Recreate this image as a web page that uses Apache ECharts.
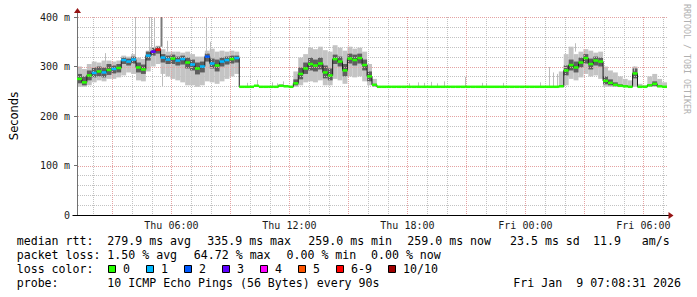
<!DOCTYPE html>
<html><head><meta charset="utf-8">
<script src="https://cdn.jsdelivr.net/npm/echarts@6/dist/echarts.min.js"></script>
<style>html,body{margin:0;padding:0;background:#fff}#c{width:697px;height:297px}</style>
</head><body><div id="c"></div>
<script>
// ---- time frame (hours since Thu 00:00) ----
const startHour = 1.2;   // Thu 01:12
const endHour = 31.2;    // Fri 07:12
const stepHours = 0.25;  // one sample per 15 min

// ---- median rtt (ms) per sample ----
const median = [
 275,268,282,287,290,288,293,295,297,313,
 310,314,298,294,322,330,334,318,314,316,
 312,315,308,304,296,300,320,306,302,310,
 313,315,317,259,259,259,261,259,259,259,
 259,261,260,259,266,285,296,305,302,306,
 288,282,315,310,292,316,313,317,303,280,
 263,259,259,259,259,259,259,259,259,259,
 259,259,259,259,259,259,259,259,259,259,
 259,259,259,259,259,259,259,259,259,259,
 259,259,259,259,259,259,259,259,260,292,
 303,298,308,317,305,312,310,271,267,263,
 261,260,259,286,259,259,262,265,260,259];

// ---- loss class per sample (index into lossNames) ----
const loss = [
 0,0,0,1,0,1,0,1,0,1,
 1,1,0,0,1,3,6,1,1,0,
 1,1,0,1,0,1,2,1,0,1,
 1,0,1,0,0,0,0,0,0,0,
 0,0,0,0,0,0,0,0,0,0,
 0,0,0,0,0,0,0,0,0,0,
 0,0,0,0,0,0,0,0,0,0,
 0,0,0,0,0,0,0,0,0,0,
 0,0,0,0,0,0,0,0,0,0,
 0,0,0,0,0,0,0,0,0,0,
 0,0,0,0,0,0,0,0,0,0,
 0,0,0,0,0,0,0,0,0,0];

// ---- smoke: outer (min..max) and core band (ms) ----
const smokeLo = [
 259,259,262,268,272,270,275,275,278,282,
 288,285,272,270,290,300,305,285,280,275,
 272,268,262,262,259,262,270,268,265,270,
 275,280,285,259,259,259,259,259,259,259,
 259,259,259,259,259,262,268,270,268,272,
 262,262,275,272,265,280,278,280,270,262,
 259,259,259,259,259,259,259,259,259,259,
 259,259,259,259,259,259,259,259,259,259,
 259,259,259,259,259,259,259,259,259,259,
 259,259,259,259,259,259,259,259,259,262,
 275,272,278,285,280,282,275,259,259,259,
 259,259,259,259,259,259,259,259,259,259];
const smokeHi = [
 300,295,305,310,308,312,312,310,312,322,
 320,325,318,315,332,338,342,335,330,330,
 330,328,330,325,320,320,332,336,330,332,
 330,332,330,259,259,259,259,259,259,259,
 259,264,262,259,290,318,325,338,335,340,
 333,330,343,338,332,340,336,338,330,305,
 275,259,259,259,259,259,259,259,259,259,
 259,259,259,259,259,259,259,259,259,259,
 259,259,259,259,259,259,259,259,259,259,
 259,259,259,259,259,259,259,259,290,325,
 340,325,330,335,332,328,330,300,292,288,
 280,275,272,300,265,262,280,285,275,268];
const coreLo = [
 266,262,272,278,280,278,283,286,288,305,
 302,306,288,285,312,322,326,308,305,305,
 302,304,296,292,284,288,310,296,290,300,
 304,306,308,259,259,259,259,259,259,259,
 259,259,259,259,262,274,285,292,290,294,
 276,272,305,300,280,306,302,306,292,270,
 260,259,259,259,259,259,259,259,259,259,
 259,259,259,259,259,259,259,259,259,259,
 259,259,259,259,259,259,259,259,259,259,
 259,259,259,259,259,259,259,259,259,282,
 292,288,298,306,294,302,300,264,262,260,
 259,259,259,276,259,259,260,261,259,259];
const coreHi = [
 285,280,292,298,300,298,305,302,305,318,
 316,320,308,304,330,338,340,325,322,324,
 320,322,318,314,308,310,326,316,314,318,
 320,322,322,259,259,259,259,259,259,259,
 259,263,261,259,274,298,308,318,314,318,
 302,296,324,320,305,326,324,326,314,290,
 265,259,259,259,259,259,259,259,259,259,
 259,259,259,259,259,259,259,259,259,259,
 259,259,259,259,259,259,259,259,259,259,
 259,259,259,259,259,259,259,259,262,302,
 314,310,318,325,316,320,318,280,274,268,
 264,262,260,296,259,259,264,270,262,259];

// ---- isolated single-ping spikes (hour, low ms, high ms, shade 0=light 1=dark) ----
const spikeHours = [2.6,4.15,4.85,4.95,5.1,5.45,5.5,5.8,7.75,7.95,9.85,10.35,11.1,11.35,11.65,18.1,18.55,18.85,19.2,19.5,19.85,20.95,21.8,22.0,22.85,24.75,25.2,25.4,25.6,26.5,29.5];
const spikeLow   = [310,320,330,330,335,340,259,330,325,330,259,259,259,259,259,259,259,259,259,259,259,259,259,259,259,259,259,259,259,330,290];
const spikeHigh  = [327,400,400,400,400,400,300,352,400,350,267,273,268,266,270,266,268,267,269,266,270,279,267,266,267,268,299,288,285,347,300];
const spikeShade = [0,0,0,0,0,1,0,0,0,0,0,0,0,0,0,0,0,0,0,0,0,0,0,0,0,0,0,0,0,0,0];

// ---- axes / grid ----
const yTicks = [0,100,200,300,400];
const yMinorGrid = [20,40,60,80,120,140,160,180,220,240,260,280,320,340,360,380];
const yMajorGrid = [100,200,300,400];
const xLabelHours = [6,12,18,24,30];
const xLabelNames = ['Thu 06:00','Thu 12:00','Thu 18:00','Fri 00:00','Fri 06:00'];
const xMinorGrid = [2,4,5,7,8,10,11,13,14,16,17,19,20,22,23,25,26,28,29,31];
const xMajorGrid = [3,6,9,12,15,18,21,24,27,30];

// ---- legend ----
const lossNames  = ['0','1','2','3','4','5','6-9','10/10'];
const lossColors = ['#26ff00','#00b8ff','#0059ff','#5e00ff','#ff00ff','#ff5500','#ff0000','#a00000'];
const rttStats   = ['279.9 ms avg','335.9 ms max','259.0 ms min','259.0 ms now','23.5 ms sd','11.9','am/s'];
const lossStats  = ['1.50 % avg','64.72 % max','0.00 % min','0.00 % now'];
const probeText  = '10 ICMP Echo Pings (56 Bytes) every 90s';
const dateParts  = ['Fri Jan','9 07:08:31 2026'];

const GRID_MINOR = '#c2c2c2', GRID_MAJOR = '#e4a2a2';
const half = stepHours / 2;
const T = median.map((_, i) => startHour + stepHours * (i + 0.5));

const chart = echarts.init(document.getElementById('c'), null, {renderer: 'svg', width: 697, height: 297});

function band(lo, hi, color, z) {
  return {
    type: 'custom', z: z, silent: true, clip: true, itemStyle: {color: color},
    data: T.map((t, i) => [t, lo[i], hi[i]]),
    encode: {x: 0, y: [1, 2]},
    renderItem: (p, api) => {
      const t = api.value(0), a = api.value(1), b = api.value(2);
      if (!(b > a)) return {type: 'group', children: []};
      const p0 = api.coord([t - half, b]), p1 = api.coord([t + half, a]);
      return {type: 'rect', shape: {x: p0[0], y: p0[1], width: p1[0] - p0[0], height: p1[1] - p0[1]}, style: {fill: color}};
    }
  };
}
function vGrid(hours, color) {
  return {
    type: 'custom', z: 3, silent: true, itemStyle: {color: color},
    data: hours.map(h => [h, 0]),
    encode: {x: 0, y: 1},
    renderItem: (p, api) => {
      const h = api.value(0);
      const a = api.coord([h, 0]), b = api.coord([h, 400]);
      const x = Math.round(a[0]) + 0.5;
      return {type: 'line', shape: {x1: x, y1: Math.round(b[1]), x2: x, y2: Math.round(a[1])},
        style: {stroke: color, fill: null, lineWidth: 1, lineDash: [1, 1]}};
    }
  };
}
function hGrid(vals, color) {
  return {
    type: 'custom', z: 3, silent: true, itemStyle: {color: color},
    data: vals.map(v => [startHour, v]),
    encode: {x: 0, y: 1},
    renderItem: (p, api) => {
      const v = api.value(1);
      const a = api.coord([startHour, v]), b = api.coord([endHour, v]);
      const y = Math.round(a[1]) + 0.5;
      return {type: 'line', shape: {x1: Math.round(a[0]) + 1, y1: y, x2: Math.round(b[0]), y2: y},
        style: {stroke: color, fill: null, lineWidth: 1, lineDash: [1, 1]}};
    }
  };
}

chart.setOption({
  animation: false,
  backgroundColor: '#fff',
  grid: {left: 67, right: 30, top: 17, bottom: 82, containLabel: false},
  xAxis: {
    type: 'value', min: startHour, max: endHour, z: 4,
    axisLine: {show: true, onZero: false, lineStyle: {color: '#000', width: 1}},
    axisTick: {show: false},
    axisLabel: {customValues: xLabelHours, formatter: v => xLabelNames[xLabelHours.indexOf(v)] || '',
      fontFamily: 'DejaVu Sans Mono', fontSize: 10, color: '#1a1a1a', margin: 5},
    splitLine: {show: false}
  },
  yAxis: {
    type: 'value', min: 0, max: 400, interval: 20, z: 4,
    axisLine: {show: true, lineStyle: {color: '#707070'}},
    axisTick: {show: true, customValues: yTicks, length: 3, lineStyle: {color: '#707070'}},
    axisLabel: {customValues: yTicks, formatter: v => v === 0 ? '0' : v + ' m',
      fontFamily: 'DejaVu Sans Mono', fontSize: 10, color: '#1a1a1a', margin: 7},
    splitLine: {show: false},
    name: 'Seconds', nameLocation: 'middle', nameGap: 57,
    nameTextStyle: {fontFamily: 'DejaVu Sans', fontSize: 11.5, color: '#000'}
  },
  series: [
    band(smokeLo, smokeHi, '#c4c4c4', 2),
    band(coreLo, coreHi, '#5e5e5e', 2),
    {
      type: 'custom', z: 2, silent: true, itemStyle: {color: '#bdbdbd'},
      data: spikeHours.map((h, i) => [h, spikeLow[i], spikeHigh[i], spikeShade[i]]),
      encode: {x: 0, y: [1, 2]},
      renderItem: (p, api) => {
        const h = api.value(0), dark = api.value(3) === 1;
        const a = api.coord([h, api.value(1)]), b = api.coord([h, api.value(2)]);
        const x = Math.round(a[0]) + 0.5;
        return {type: 'line', shape: {x1: x, y1: a[1], x2: x, y2: b[1]},
          style: {stroke: dark ? '#7a7a7a' : '#bdbdbd', lineWidth: dark ? 2 : 1}};
      }
    },
    hGrid(yMinorGrid, GRID_MINOR),
    vGrid(xMinorGrid, GRID_MINOR),
    hGrid(yMajorGrid, GRID_MAJOR),
    vGrid(xMajorGrid, GRID_MAJOR),
    {
      type: 'line', z: 5, silent: true, step: 'middle', symbol: 'none',
      data: T.map((t, i) => [t, median[i]]),
      itemStyle: {color: '#1a1a1a'},
      lineStyle: {color: '#1a1a1a', width: 1}
    },
    {
      type: 'custom', z: 6, silent: true, itemStyle: {color: lossColors[0]},
      data: T.map((t, i) => [t, median[i], loss[i]]),
      encode: {x: 0, y: 1},
      renderItem: (p, api) => {
        const t = api.value(0), v = api.value(1), l = api.value(2);
        const a = api.coord([t - half, v]), b = api.coord([t + half, v]);
        return {type: 'rect', shape: {x: a[0], y: a[1] - 1.25, width: b[0] - a[0], height: 2.5}, style: {fill: lossColors[l]}};
      }
    }
  ]
});

// ---- decorations and text block ----
const g = [];
const MONO = 'DejaVu Sans Mono', FS = 11.6;
function txt(x, y, s, align) {
  g.push({type: 'text', x: x, y: y, silent: true,
    style: {text: s, fontFamily: MONO, fontSize: FS, fill: '#000', textAlign: align || 'left', textVerticalAlign: 'middle', align: align || 'left', verticalAlign: 'middle'}});
}
const pTop = chart.convertToPixel({gridIndex: 0}, [startHour, 400]);
const pEnd = chart.convertToPixel({gridIndex: 0}, [endHour, 0]);
const ax = Math.round(pTop[0]) + 0.5, ay = Math.round(pEnd[1]) + 0.5;
g.push({type: 'line', silent: true, z: 10, shape: {x1: ax, y1: pTop[1], x2: ax, y2: pTop[1] - 4}, style: {stroke: '#707070', lineWidth: 1}});
g.push({type: 'polygon', silent: true, z: 10, shape: {points: [[ax - 3.5, pTop[1] - 4], [ax + 3.5, pTop[1] - 4], [ax, pTop[1] - 9]]}, style: {fill: '#961414'}});
g.push({type: 'line', silent: true, z: 10, shape: {x1: ax - 5, y1: ay, x2: ax, y2: ay}, style: {stroke: '#000', lineWidth: 1}});
g.push({type: 'line', silent: true, z: 10, shape: {x1: pEnd[0], y1: ay, x2: pEnd[0] + 2, y2: ay}, style: {stroke: '#000', lineWidth: 1}});
g.push({type: 'polygon', silent: true, z: 10, shape: {points: [[pEnd[0] + 1.5, ay - 3.5], [pEnd[0] + 1.5, ay + 3.5], [pEnd[0] + 6.5, ay]]}, style: {fill: '#961414'}});
g.push({type: 'text', x: 687, y: 4, rotation: -Math.PI / 2, silent: true,
  style: {text: 'RRDTOOL / TOBI OETIKER', fontFamily: MONO, fontSize: 8.3, fill: '#b0b0b0', textAlign: 'left', textVerticalAlign: 'middle', align: 'left', verticalAlign: 'middle'}});

const rowY = [241, 255, 269, 283];
txt(16.7, rowY[0], 'median rtt:');
[107.3, 207.3, 308.3, 407.3, 510, 593, 641.7].forEach((x, i) => txt(x, rowY[0], rttStats[i]));
txt(16.7, rowY[1], 'packet loss:');
[107.3, 193.8, 286.5, 371].forEach((x, i) => txt(x, rowY[1], lossStats[i]));
txt(16.7, rowY[2], 'loss color:');
let bx = 108;
lossNames.forEach((n, i) => {
  g.push({type: 'rect', silent: true, shape: {x: bx + 0.5, y: rowY[2] - 3.5, width: 7, height: 7}, style: {fill: lossColors[i], stroke: '#000', lineWidth: 1}});
  txt(bx + 15, rowY[2], n);
  bx += 15 + n.length * 7.0 + 16;
});
txt(16.7, rowY[3], 'probe:');
txt(107.3, rowY[3], probeText);
txt(513.3, rowY[3], dateParts[0]);
txt(576.3, rowY[3], dateParts[1]);

chart.setOption({graphic: g});
</script>
</body></html>
